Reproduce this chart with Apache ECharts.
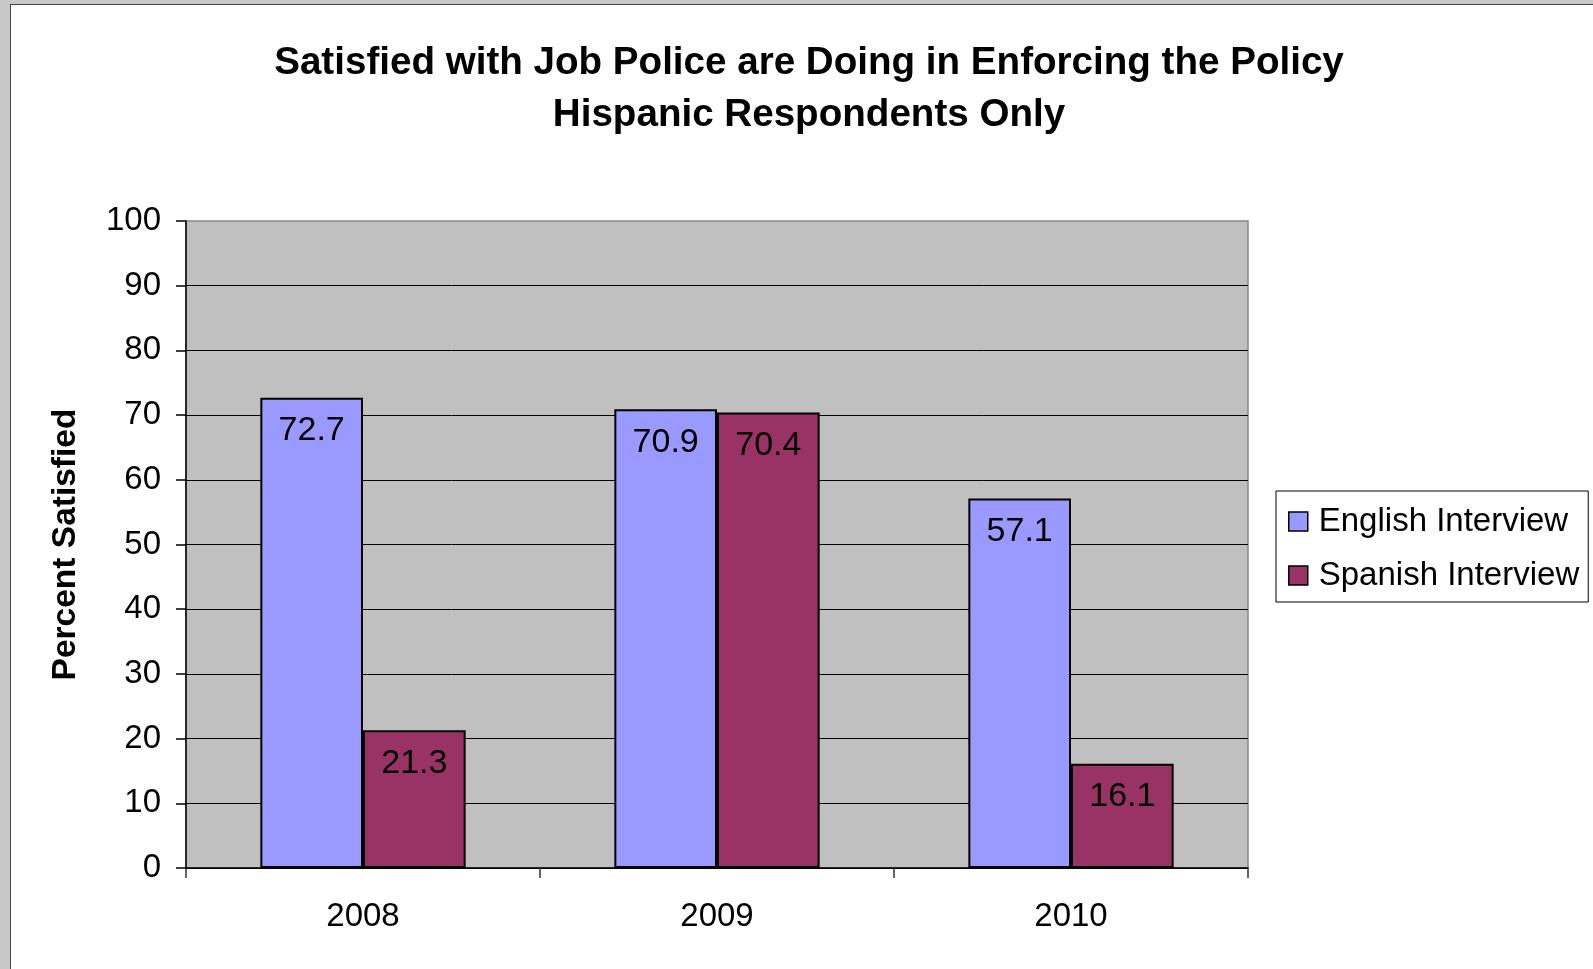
<!DOCTYPE html>
<html>
<head>
<meta charset="utf-8">
<script src="https://cdn.jsdelivr.net/npm/echarts@6/dist/echarts.min.js"></script>
<style>
  html, body { margin: 0; padding: 0; width: 1593px; height: 969px; overflow: hidden; background: #c8c8c8; }
  #paper { position: absolute; left: 10px; top: 4px; width: 1583px; height: 965px; background: #fff;
           border-left: 1.5px solid #444; border-top: 1.5px solid #444; box-sizing: border-box; }
  #chart { position: absolute; left: 0; top: 0; width: 1593px; height: 969px; }
</style>
</head>
<body>
<div id="paper"></div>
<div id="chart"></div>
<script>
const categories = ['2008', '2009', '2010'];
const englishValues = [72.7, 70.9, 57.1];
const spanishValues = [21.3, 70.4, 16.1];
const seriesNames = ['English Interview', 'Spanish Interview'];
const titleLines = ['Satisfied with Job Police are Doing in Enforcing the Policy', 'Hispanic Respondents Only'];
const yAxisName = 'Percent Satisfied';

const FONT = '"Liberation Sans", Arial, sans-serif';
const chart = echarts.init(document.getElementById('chart'), null, { renderer: 'canvas' });

const labelStyle = {
  show: true,
  position: 'insideTop',
  distance: 16,
  color: '#000',
  fontSize: 34,
  fontFamily: FONT
};

chart.setOption({
  backgroundColor: 'transparent',
  animation: false,
  title: {
    text: titleLines.join('\n'),
    left: 809,
    top: 37,
    textAlign: 'center',
    padding: 0,
    textStyle: { fontSize: 38.6, fontWeight: 'bold', color: '#000', fontFamily: FONT, lineHeight: 52 }
  },
  legend: {
    orient: 'vertical',
    left: 1276,
    top: 491,
    padding: [14, 9, 10, 12],
    itemGap: 21,
    itemWidth: 19,
    itemHeight: 19,
    icon: 'rect',
    borderColor: '#000',
    borderWidth: 1,
    backgroundColor: '#fff',
    itemStyle: { borderColor: '#000', borderWidth: 1.5 },
    textStyle: { fontSize: 33, color: '#000', fontFamily: FONT, padding: [0, 0, 0, 6] },
    data: seriesNames
  },
  grid: {
    left: 186,
    top: 221,
    right: 345,
    bottom: 101,
    show: true,
    backgroundColor: '#c0c0c0',
    borderColor: '#888',
    borderWidth: 1.5
  },
  xAxis: {
    type: 'category',
    data: categories,
    axisLine: { show: true, lineStyle: { color: '#000', width: 1.5 } },
    axisTick: { show: true, alignWithLabel: false, length: 10, lineStyle: { color: '#333', width: 1.5 } },
    axisLabel: { fontSize: 33, color: '#000', fontFamily: FONT, margin: 32 },
    splitLine: { show: false }
  },
  yAxis: {
    type: 'value',
    min: 0,
    max: 100,
    interval: 10,
    name: yAxisName,
    nameLocation: 'middle',
    nameRotate: 90,
    nameGap: 103,
    nameTextStyle: { fontSize: 33.5, fontWeight: 'bold', color: '#000', fontFamily: FONT },
    axisLine: { show: true, lineStyle: { color: '#000', width: 1.5 } },
    axisTick: { show: true, length: 10, lineStyle: { color: '#000', width: 1.5 } },
    axisLabel: { fontSize: 33, color: '#000', fontFamily: FONT, margin: 25 },
    splitLine: { show: true, showMaxLine: false, lineStyle: { color: '#000', width: 1 } }
  },
  series: [
    {
      name: seriesNames[0],
      type: 'bar',
      data: englishValues,
      barGap: '0%',
      barCategoryGap: '42%',
      itemStyle: { color: '#9999FF', borderColor: '#000', borderWidth: 2 },
      label: labelStyle
    },
    {
      name: seriesNames[1],
      type: 'bar',
      data: spanishValues,
      barGap: '0%',
      barCategoryGap: '42%',
      itemStyle: { color: '#993366', borderColor: '#000', borderWidth: 2 },
      label: labelStyle
    }
  ]
});
</script>
</body>
</html>
